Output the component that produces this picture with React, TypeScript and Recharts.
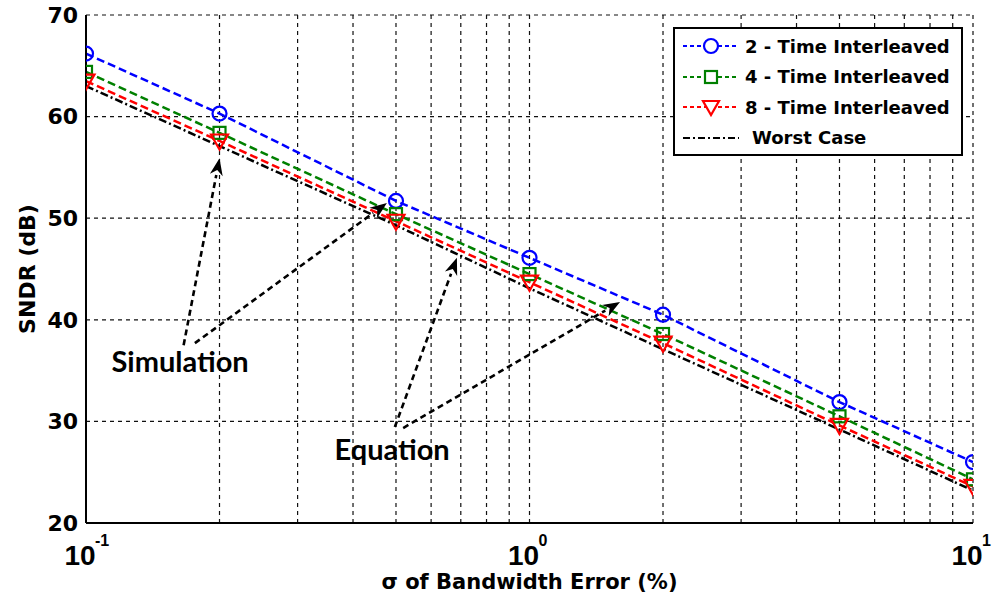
import React from 'react';
import {
  LineChart,
  Line,
  XAxis,
  YAxis,
  CartesianGrid,
  Legend,
  ReferenceLine,
  ReferenceDot,
} from 'recharts';

// sigma of bandwidth error (%) on a log axis
const sigma = [0.1, 0.2, 0.5, 1, 2, 5, 10];
const ti2 = [66.2, 60.3, 51.7, 46.1, 40.5, 31.9, 26.0];
const ti4 = [64.4, 58.4, 50.4, 44.5, 38.6, 30.5, 24.3];
const ti8 = [63.5, 57.6, 49.7, 43.7, 37.7, 29.6, 23.6];
const worstCase = [63.0, 57.1, 49.3, 43.1, 37.1, 29.2, 23.2];

const seriesNames = ['2 - Time Interleaved', '4 - Time Interleaved', '8 - Time Interleaved', 'Worst Case'];

const xTicks = [0.1, 0.2, 0.3, 0.4, 0.5, 0.6, 0.7, 0.8, 0.9, 1, 2, 3, 4, 5, 6, 7, 8, 9, 10];
const yTicks = [20, 30, 40, 50, 60, 70];

// annotation arrows: [from, to] in data units (sigma, dB)
const simulationArrows = [
  [[0.166, 37.5], [0.2, 55.9]],
  [[0.176, 37.7], [0.477, 51.5]],
];
const equationArrows = [
  [[0.497, 29.45], [0.686, 46.1]],
  [[0.519, 29.35], [1.6, 41.75]],
];
const noteLabels = [
  { text: 'Simulation', x: 0.163, y: 35.9 },
  { text: 'Equation', x: 0.49, y: 27.2 },
];

const data = sigma.map((x, i) => ({
  x,
  ti2: ti2[i],
  ti4: ti4[i],
  ti8: ti8[i],
  worst: worstCase[i],
}));

const AXIS_FONT = '"DejaVu Sans", sans-serif';
const ARIAL = '"Liberation Sans", Arial, sans-serif';

const circleDot = (color: string) => (p: any) => (
  <circle key={`c-${p.index}`} cx={p.cx} cy={p.cy} r={7} fill="none" stroke={color} strokeWidth={2.2} strokeDasharray="none" />
);
const squareDot = (color: string) => (p: any) => (
  <rect key={`s-${p.index}`} x={p.cx - 6} y={p.cy - 6} width={12} height={12} fill="none" stroke={color} strokeWidth={2.2} strokeDasharray="none" />
);
const triangleDot = (color: string) => (p: any) => (
  <polygon
    key={`t-${p.index}`}
    points={`${p.cx - 8.5},${p.cy - 6.5} ${p.cx + 8.5},${p.cy - 6.5} ${p.cx},${p.cy + 8.5}`}
    fill="none"
    stroke={color}
    strokeWidth={2.2}
    strokeDasharray="none"
  />
);

const series = [
  { key: 'ti2', color: '#0000ff', dash: '8 4', dot: circleDot('#0000ff'), marker: 'circle' },
  { key: 'ti4', color: '#008000', dash: '8 4', dot: squareDot('#008000'), marker: 'square' },
  { key: 'ti8', color: '#ff0000', dash: '8 4', dot: triangleDot('#ff0000'), marker: 'triangle' },
  { key: 'worst', color: '#000000', dash: '8 3 2 3', dot: false as const, marker: 'none' },
];

const XTick = ({ x, y, payload }: any) => {
  const lg = Math.log10(payload.value);
  const e = Math.round(lg);
  if (Math.abs(lg - e) > 1e-6) return <g />;
  return (
    <g fontFamily={ARIAL} fontWeight="bold" fill="#000">
      <text x={x - 6} y={y + 40} textAnchor="middle" fontSize={28}>
        10
      </text>
      <text x={x + 9} y={y + 21} textAnchor="start" fontSize={16}>
        {e}
      </text>
    </g>
  );
};

const Arrow = (p: any) => {
  const { x1, y1, x2, y2 } = p;
  const dx = x2 - x1;
  const dy = y2 - y1;
  const len = Math.hypot(dx, dy) || 1;
  const ux = dx / len;
  const uy = dy / len;
  const hl = 17;
  const hw = 6.5;
  const bx = x2 - ux * hl;
  const by = y2 - uy * hl;
  const nx = x2 - ux * (hl - 5);
  const ny = y2 - uy * (hl - 5);
  return (
    <g>
      <line x1={x1} y1={y1} x2={bx} y2={by} stroke="#000" strokeWidth={2.6} strokeDasharray="6 4" />
      <polygon
        points={`${x2},${y2} ${bx - uy * hw},${by + ux * hw} ${nx},${ny} ${bx + uy * hw},${by - ux * hw}`}
        fill="#000"
      />
    </g>
  );
};

const LegendMarker = ({ s }: any) => {
  const cx = 30;
  const cy = 10;
  return (
    <svg width={60} height={20} style={{ display: 'block' }}>
      <line x1={2} y1={cy} x2={58} y2={cy} stroke={s.color} strokeWidth={2} strokeDasharray={s.key === 'worst' ? '7 3 2 3' : '4 3'} />
      {s.marker === 'circle' && <circle cx={cx} cy={cy} r={7} fill="#fff" stroke={s.color} strokeWidth={2.2} />}
      {s.marker === 'square' && <rect x={cx - 6} y={cy - 6} width={12} height={12} fill="#fff" stroke={s.color} strokeWidth={2.2} />}
      {s.marker === 'triangle' && (
        <polygon points={`${cx - 8},${cy - 6} ${cx + 8},${cy - 6} ${cx},${cy + 8}`} fill="#fff" stroke={s.color} strokeWidth={2.2} />
      )}
    </svg>
  );
};

const LegendBox = () => (
  <div
    style={{
      border: '2px solid #000',
      background: '#fff',
      width: 286,
      height: 123,
      boxSizing: 'content-box',
      paddingTop: 2,
    }}
  >
    {series.map((s, i) => (
      <div key={s.key} style={{ display: 'flex', alignItems: 'center', height: 30.5, paddingLeft: 6 }}>
        <LegendMarker s={s} />
        <span
          style={{
            fontFamily: AXIS_FONT,
            fontWeight: 'bold',
            fontSize: 18,
            color: '#000',
            marginLeft: s.key === 'worst' ? 11 : 4,
            whiteSpace: 'nowrap',
          }}
        >
          {seriesNames[i]}
        </span>
      </div>
    ))}
  </div>
);

export default function App() {
  return (
    <div style={{ position: 'absolute', left: 0, top: 0, width: 993, height: 601, background: '#fff' }}>
      <LineChart width={993} height={601} data={data} margin={{ top: 15, right: 20, bottom: 0, left: 0 }}>
        <CartesianGrid stroke="#111" strokeDasharray="4 4" strokeWidth={1.2} />
        <XAxis
          dataKey="x"
          type="number"
          scale="log"
          domain={[0.1, 10]}
          ticks={xTicks}
          interval={0}
          allowDataOverflow
          height={78}
          tickSize={0}
          tick={<XTick />}
          axisLine={{ stroke: '#000', strokeWidth: 2 }}
          label={{
            content: ({ viewBox }: any) => (
              <text
                x={(viewBox?.x ?? 86) + (viewBox?.width ?? 887) / 2}
                y={589}
                textAnchor="middle"
                fontFamily={AXIS_FONT}
                fontWeight="bold"
                fontSize={21}
                fill="#000"
              >
                σ of Bandwidth Error (%)
              </text>
            ),
          }}
        />
        <XAxis
          xAxisId="top"
          orientation="top"
          dataKey="x"
          type="number"
          scale="log"
          domain={[0.1, 10]}
          allowDataOverflow
          height={0}
          tick={false}
          tickLine={false}
          axisLine={{ stroke: '#000', strokeWidth: 2 }}
        />
        <YAxis
          type="number"
          domain={[20, 70]}
          ticks={yTicks}
          interval={0}
          width={86}
          tickSize={0}
          tickMargin={8}
          tick={{ fontFamily: AXIS_FONT, fontWeight: 'bold', fontSize: 22, fill: '#000' }}
          axisLine={{ stroke: '#000', strokeWidth: 2 }}
          label={{
            content: () => (
              <text
                x={27}
                y={269}
                transform="rotate(-90 27 269)"
                textAnchor="middle"
                dominantBaseline="central"
                fontFamily={AXIS_FONT}
                fontWeight="bold"
                fontSize={22}
                fill="#000"
              >
                SNDR (dB)
              </text>
            ),
          }}
        />
        <YAxis
          yAxisId="right"
          orientation="right"
          type="number"
          domain={[20, 70]}
          width={0}
          tick={false}
          tickLine={false}
          axisLine={{ stroke: '#000', strokeWidth: 2 }}
        />
        {series.map((s, i) => (
          <Line
            key={s.key}
            dataKey={s.key}
            name={seriesNames[i]}
            type="linear"
            stroke={s.color}
            strokeWidth={2.5}
            strokeDasharray={s.dash}
            dot={s.dot as any}
            activeDot={false}
            isAnimationActive={false}
          />
        ))}
        {[...simulationArrows, ...equationArrows].map((a, i) => (
          <ReferenceLine
            key={`arrow-${i}`}
            segment={[
              { x: a[0][0], y: a[0][1] },
              { x: a[1][0], y: a[1][1] },
            ]}
            shape={Arrow}
          />
        ))}
        {noteLabels.map((n) => (
          <ReferenceDot
            key={n.text}
            x={n.x}
            y={n.y}
            r={0}
            fill="none"
            stroke="none"
            label={{
              value: n.text,
              position: 'center',
              fontFamily: 'Lato, sans-serif',
              fontWeight: 'bold',
              fontSize: 29,
              fill: '#000',
            }}
          />
        ))}
        <Legend
          layout="vertical"
          align="center"
          verticalAlign="middle"
          wrapperStyle={{ left: 673, top: 27, width: 'auto' }}
          content={() => <LegendBox />}
        />
      </LineChart>
    </div>
  );
}
